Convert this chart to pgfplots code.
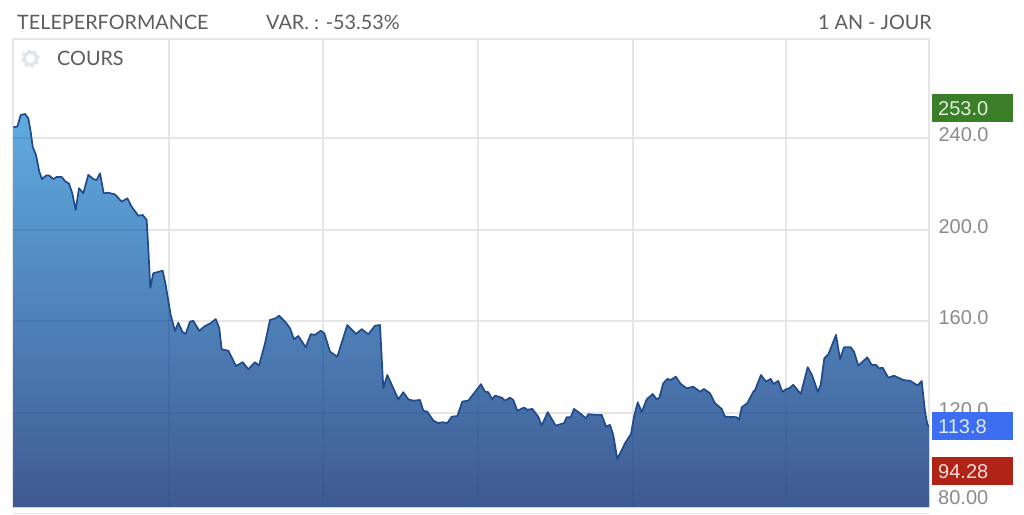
\documentclass[border=0pt]{standalone}
\usepackage{pgfplots}
\pgfplotsset{compat=1.18}
\usepackage{pgfplotstable}
\usepackage{fontspec}
\setmainfont{Liberation Sans}
\newfontfamily\titlefont{Lato}
\definecolor{gridc}{HTML}{E6E6E6}
\definecolor{titlec}{HTML}{5C5C5C}
\definecolor{tickc}{HTML}{8A8A8A}
\definecolor{linec}{HTML}{1F4A8C}
\definecolor{topc}{HTML}{5FABE0}
\definecolor{midc}{HTML}{4E82B8}
\definecolor{botc}{HTML}{3F5A93}
\definecolor{greenb}{HTML}{3A7F27}
\definecolor{blueb}{HTML}{3D6EF2}
\definecolor{redb}{HTML}{B02418}
\definecolor{gearc}{HTML}{DFE5EC}
\pgfplotstableread{
x y
13.5 244.8
17.3 244.9
20.7 250.0
25 250.5
28.3 248.6
30.7 242.7
32.7 236.2
36 232.6
39.3 225.3
42 222.1
46 223.6
49.3 223.6
53.3 222.1
56.7 223.0
61.7 223.0
65 221.2
69 220.1
72.3 215.9
75.7 208.6
79 218.1
83.3 215.9
88.3 223.9
93.3 222.1
96.7 221.7
100 224.6
103.7 215.9
108.3 216.1
115 215.4
121.7 212.2
127.3 213.7
131.7 210.0
138.3 206.1
142.7 206.4
146.7 204.2
148.3 191.9
150.3 174.7
153.3 181.0
162.7 182.1
165.7 175.9
170.7 162.8
175 155.8
178.3 159.4
182.7 155.2
185.7 154.6
190 159.9
193.3 160.2
199.3 155.9
205 158.0
210.7 159.2
215.7 161.0
219.3 157.0
221.7 147.8
228.3 147.2
236 140.5
242.7 142.2
248.3 139.1
255 142.2
259 140.7
265 150.4
270 160.6
276 161.4
279 162.5
285 159.9
290 157.0
294 152.2
298.3 153.6
305.7 148.7
310.7 154.4
315 154.1
320.7 155.9
324.3 154.8
330 146.8
337.3 144.6
347.3 158.4
356 154.5
361.7 156.6
368.3 154.4
375 158.1
380 158.4
383.3 130.9
387.3 136.6
398.3 126.0
403.3 129.1
408.3 126.0
413.3 125.4
420 125.7
423.3 121.0
427.3 120.6
433.3 116.7
438.3 115.6
442.3 116.0
447.3 115.6
451.7 118.4
457.3 118.7
462.3 125.0
468.3 125.4
481 132.6
485 129.3
488.3 129.1
492.3 126.0
495 127.6
501.7 126.7
505 125.4
510 126.7
513.3 125.7
517.3 121.0
524 122.4
527.3 121.4
532.3 121.8
538.3 118.4
541.7 114.5
547.7 120.4
555.7 114.5
564 115.6
566.7 118.2
570.7 118.2
574 121.8
580 119.9
586 117.7
588.3 119.5
595 119.2
601.7 119.2
606 114.1
610 114.8
613.3 110.4
617.3 99.9
625 106.8
631 110.9
634 118.4
637.7 124.7
641.7 120.4
646.7 126.0
652.7 128.3
656.7 126.0
659.3 126.7
663.3 133.0
667.3 134.9
670.7 134.4
675.7 135.9
680.7 132.7
686.7 130.8
693.3 131.5
700 129.3
704 130.5
710 128.6
715 124.3
721.7 121.8
725 118.4
736.7 118.2
739 117.0
741.7 122.5
747.3 124.3
753.3 129.3
755 130.0
761 136.6
766 133.7
770.7 134.9
773.3 132.7
778.3 134.0
782.3 129.3
786.7 130.5
789.3 130.8
793.3 132.3
800.7 128.3
807.7 140.0
812.3 136.3
817.7 129.3
820.7 132.3
824.3 143.9
828.3 145.6
836 154.1
840 143.5
844 148.7
850.7 148.7
854 146.8
858.3 140.7
867.3 144.3
871.7 141.0
876 141.0
879 139.5
882.7 139.8
888.3 135.4
894 136.3
903.3 134.4
910 134.1
917.7 132.0
921.7 134.0
925 120.6
927.3 115.2
929 113.8
}\pricetable
\begin{document}
\begin{tikzpicture}[x=1pt,y=1pt]
\path[use as bounding box] (0,0) rectangle (1024,514);
\begin{axis}[
  at={(13.5pt,7pt)}, anchor=south west,
  scale only axis, width=915.5pt, height=468pt,
  xmin=13.5, xmax=929, ymin=79, ymax=283.2,
  xtick={169,323,478,633,786}, xticklabels={},
  ytick={120,160,200,240},
  yticklabel pos=right,
  yticklabel style={text=tickc, font=\fontsize{20}{21}\selectfont, anchor=west, xshift=6pt, yshift=3.5pt,
    /pgf/number format/assume math mode=true,
    /pgf/number format/fixed, /pgf/number format/fixed zerofill, /pgf/number format/precision=1},
  major tick length=0pt,
  grid=major, major grid style={gridc, line width=2pt},
  axis line style={gridc, line width=2pt},
  clip=true, clip mode=individual,
  axis on top=false,
]
\addplot[draw=none, top color=topc, middle color=midc, bottom color=botc] table[x=x,y=y]{\pricetable} \closedcycle;
\addplot[ycomb, no marks, color=linec, opacity=.16, line width=1.8pt] coordinates {(169,167)(323,155)(478,131)(633,114)(786,130)};
\addplot[no marks, color=linec, opacity=.16, line width=1.8pt] coordinates {(13.5,240)(31.5,240)};
\addplot[no marks, color=linec, opacity=.16, line width=1.8pt] coordinates {(13.5,200)(148,200)};
\addplot[no marks, color=linec, opacity=.16, line width=1.8pt] coordinates {(13.5,160)(171,160)};
\addplot[no marks, color=linec, opacity=.16, line width=1.8pt] coordinates {(13.5,120)(428,120)};
\addplot[no marks, color=linec, opacity=.16, line width=1.8pt] coordinates {(458,120)(534,120)};
\addplot[no marks, color=linec, opacity=.16, line width=1.8pt] coordinates {(635,120)(724,120)};
\addplot[no marks, color=linec, opacity=.16, line width=1.8pt] coordinates {(741,120)(926,120)};
\addplot[no marks, color=linec, line width=1.7pt, line join=round] table[x=x,y=y]{\pricetable};
\node[anchor=west, inner sep=0pt, text=tickc, font=\fontsize{20}{21}\selectfont] at (axis cs:938,83) {80.00};
\end{axis}
% value flags
\fill[greenb] (932,391.5) rectangle (1013,419.5);
\fill[blueb] (932,74) rectangle (1013,102);
\fill[redb] (932,29) rectangle (1013,57);
\node[anchor=base west, inner sep=0pt, text=white!85!greenb, font=\fontsize{20}{21}\selectfont] at (938,398.5) {253.0};
\node[anchor=base west, inner sep=0pt, text=white!85!blueb, font=\fontsize{20}{21}\selectfont] at (938,81) {113.8};
\node[anchor=base west, inner sep=0pt, text=white!85!redb, font=\fontsize{20}{21}\selectfont] at (938,36) {94.28};
% header
\node[anchor=base west, inner sep=0pt, text=titlec, font=\titlefont\fontsize{19.8}{21}\selectfont] at (17,484) {TELEPERFORMANCE};
\node[anchor=base west, inner sep=0pt, text=titlec, font=\titlefont\fontsize{19.8}{21}\selectfont] at (266,484) {VAR. : -53.53\%};
\node[anchor=base east, inner sep=0pt, text=titlec, font=\titlefont\fontsize{19.8}{21}\selectfont] at (932,484) {1 AN - JOUR};
\node[anchor=base west, inner sep=0pt, text=titlec, font=\titlefont\fontsize{19.8}{21}\selectfont] at (57,448) {COURS};
% gear
\draw[gearc, line width=3pt] (30.5,455.5) circle (6);
\draw[gearc, line width=2.5pt, dash pattern=on 3pt off 3.28pt] (30.5,455.5) circle (8);
% outer frame lines
\draw[gridc, line width=1pt] (13,1) -- (929,1);
\end{tikzpicture}
\end{document}
